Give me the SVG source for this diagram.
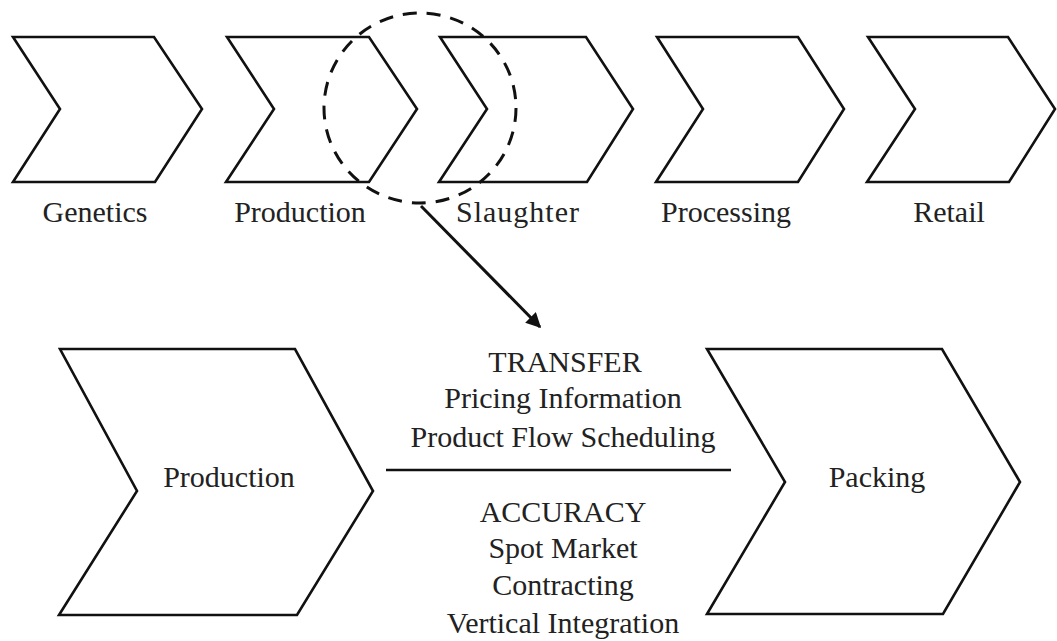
<svg xmlns="http://www.w3.org/2000/svg" width="1057" height="641" viewBox="0 0 1057 641">
<style>
.chev{fill:#fff;stroke:#111;stroke-width:2.6;stroke-linejoin:miter}
.lbl{font-family:"Liberation Serif","Times New Roman",serif;font-size:30px;fill:#222;text-anchor:middle}
.conn{fill:none;stroke:#111}
</style>
<defs>
<marker id="ah" viewBox="0 0 10 10" refX="9" refY="5" markerWidth="5" markerHeight="5" orient="auto" markerUnits="strokeWidth">
<path d="M0,0 L10,5 L0,10 z" fill="#111"/>
</marker>
</defs>
<rect width="1057" height="641" fill="#fff"/>
<g id="genetics">
<polygon class="chev" points="13,37 154,37 202,109 155,182 13,182 60,109"/>
<text class="lbl" x="95" y="222">Genetics</text>
</g>
<g id="production-top">
<polygon class="chev" points="227,37 369,37 417,109 369,182 226,182 274,109"/>
<text class="lbl" x="300" y="222">Production</text>
</g>
<g id="slaughter">
<polygon class="chev" points="440,37 586,37 633,109 587,182 439,182 487,109"/>
<text class="lbl" x="518" y="222" letter-spacing="1">Slaughter</text>
</g>
<g id="processing">
<polygon class="chev" points="657,37 798,37 844,109 798,182 656,182 703,109"/>
<text class="lbl" x="726" y="222">Processing</text>
</g>
<g id="retail">
<polygon class="chev" points="868,37 1008,37 1055,109 1009,182 867,182 915,109"/>
<text class="lbl" x="949" y="222">Retail</text>
</g>
<g id="focus">
<ellipse cx="420" cy="108" rx="96" ry="95" fill="none" stroke="#111" stroke-width="3" stroke-dasharray="14,10"/>
</g>
<g id="production-bottom">
<polygon class="chev" points="60,349 295,349 373,491 297,615 59,615 137,491"/>
<text class="lbl" x="229" y="487">Production</text>
</g>
<g id="packing">
<polygon class="chev" points="707,349 942,349 1020,482 943,614 707,614 785,482"/>
<text class="lbl" x="877" y="487">Packing</text>
</g>
<g id="interface">
<text class="lbl" x="565" y="372">TRANSFER</text>
<text class="lbl" x="563" y="408">Pricing Information</text>
<text class="lbl" x="563" y="447">Product Flow Scheduling</text>
<text class="lbl" x="563" y="522">ACCURACY</text>
<text class="lbl" x="563" y="558">Spot Market</text>
<text class="lbl" x="563" y="595">Contracting</text>
<text class="lbl" x="563" y="633">Vertical Integration</text>
</g>
<g id="connectors">
<line class="conn" x1="386" y1="470" x2="731" y2="470" stroke-width="2.6"/>
<line class="conn" x1="421" y1="206" x2="540" y2="327" stroke-width="3" marker-end="url(#ah)"/>
</g>
</svg>
